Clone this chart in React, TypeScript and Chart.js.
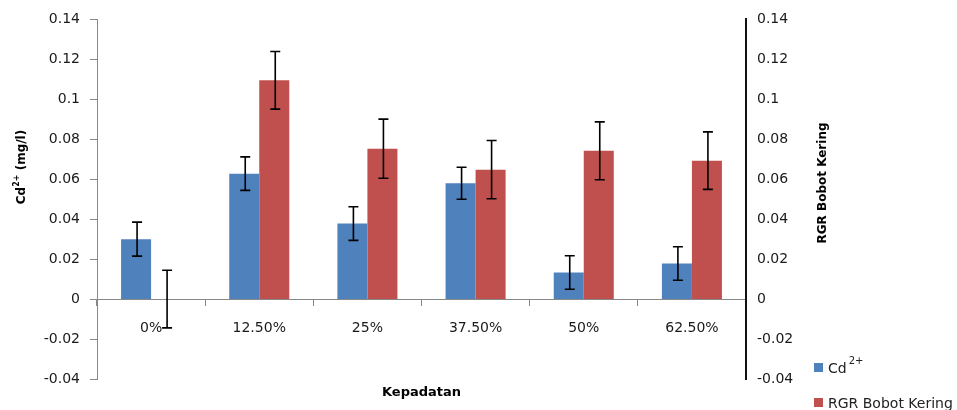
import React, { useEffect, useRef } from "react";
import { Chart, registerables } from "chart.js";

Chart.register(...registerables);

const categories = ["0%", "12.50%", "25%", "37.50%", "50%", "62.50%"];
const cdValues = [0.03, 0.0628, 0.0378, 0.058, 0.0133, 0.0178];
const cdErrors = [0.0085, 0.0084, 0.0084, 0.008, 0.0084, 0.0084];
const rgrValues = [0, 0.1095, 0.0753, 0.0648, 0.0742, 0.0693];
const rgrErrors = [0.0144, 0.0144, 0.0148, 0.0146, 0.0145, 0.0144];
const axisMin = -0.04;
const axisMax = 0.14;
const axisStep = 0.02;

const FONT = "'DejaVu Sans', sans-serif";
const BLUE = "#4F81BD";
const RED = "#C0504D";

const errorBarsPlugin = {
  id: "errorBars",
  afterDatasetsDraw(chart: any) {
    const ctx = chart.ctx;
    const errs = [cdErrors, rgrErrors];
    chart.data.datasets.forEach((ds: any, i: number) => {
      const meta = chart.getDatasetMeta(i);
      const ys = chart.scales[meta.yAxisID];
      meta.data.forEach((el: any, j: number) => {
        const v = ds.data[j];
        const e = errs[i][j];
        const x = el.x + 1;
        const yt = ys.getPixelForValue(v + e);
        const yb = ys.getPixelForValue(v - e);
        ctx.save();
        ctx.strokeStyle = "#000";
        ctx.lineWidth = 1.6;
        ctx.beginPath();
        ctx.moveTo(x, yt);
        ctx.lineTo(x, yb);
        ctx.moveTo(x - 5, yt);
        ctx.lineTo(x + 5, yt);
        ctx.moveTo(x - 5, yb);
        ctx.lineTo(x + 5, yb);
        ctx.stroke();
        ctx.restore();
      });
    });
  },
};

function drawParts(ctx: any, parts: { t: string; size: number; dy: number }[], x: number, y: number, center: boolean) {
  let total = 0;
  parts.forEach((p) => {
    ctx.font = `bold ${p.size}px ${FONT}`;
    total += ctx.measureText(p.t).width;
  });
  let cx = center ? x - total / 2 : x;
  parts.forEach((p) => {
    ctx.font = `bold ${p.size}px ${FONT}`;
    ctx.fillText(p.t, cx, y + p.dy);
    cx += ctx.measureText(p.t).width;
  });
}

const annotationsPlugin = {
  id: "annotations",
  afterDraw(chart: any) {
    const ctx = chart.ctx;
    const area = chart.chartArea;
    ctx.save();
    ctx.fillStyle = "#000";
    ctx.textBaseline = "alphabetic";
    ctx.textAlign = "left";
    // left title
    ctx.save();
    ctx.translate(25, 167);
    ctx.rotate(-Math.PI / 2);
    drawParts(
      ctx,
      [
        { t: "Cd", size: 12, dy: 0 },
        { t: "2+", size: 8, dy: -6 },
        { t: " (mg/l)", size: 12, dy: 0 },
      ],
      0,
      0,
      true
    );
    ctx.restore();
    // right title
    ctx.save();
    ctx.translate(826, 183);
    ctx.rotate(-Math.PI / 2);
    ctx.font = `bold 12px ${FONT}`;
    ctx.textAlign = "center";
    ctx.fillText("RGR Bobot Kering", 0, 0);
    ctx.restore();
    // x title
    ctx.font = `bold 13px ${FONT}`;
    ctx.textAlign = "center";
    ctx.textBaseline = "middle";
    ctx.fillText("Kepadatan", (area.left + area.right) / 2, 393);
    // legend
    ctx.textAlign = "left";
    ctx.textBaseline = "alphabetic";
    ctx.fillStyle = BLUE;
    ctx.fillRect(814, 363, 9, 9);
    ctx.fillStyle = RED;
    ctx.fillRect(814, 398, 9, 9);
    ctx.fillStyle = "#222";
    ctx.font = `14px ${FONT}`;
    ctx.fillText("Cd", 828, 373);
    const w = ctx.measureText("Cd").width;
    ctx.font = `10px ${FONT}`;
    ctx.fillText("2+", 828 + w + 2, 364);
    ctx.font = `14px ${FONT}`;
    ctx.fillText("RGR Bobot Kering", 828, 408);
    ctx.restore();
  },
};

function fmt(v: number) {
  const r = Math.round(v * 100) / 100;
  return String(r);
}

export default function App() {
  const ref = useRef<HTMLCanvasElement>(null);
  useEffect(() => {
    if (!ref.current) return;
    const chart = new Chart(ref.current, {
      type: "bar",
      data: {
        labels: categories,
        datasets: [
          {
            label: "Cd2+",
            data: cdValues,
            backgroundColor: BLUE,
            yAxisID: "y",
            categoryPercentage: 0.555,
            barPercentage: 1,
          },
          {
            label: "RGR Bobot Kering",
            data: rgrValues,
            backgroundColor: RED,
            yAxisID: "y2",
            categoryPercentage: 0.555,
            barPercentage: 1,
          },
        ],
      },
      options: {
        responsive: false,
        animation: false,
        layout: { padding: { top: 19, bottom: 31, left: 0, right: 0 } },
        plugins: { legend: { display: false }, tooltip: { enabled: false } },
        scales: {
          x: {
            type: "category",
            position: { y: 0 } as any,
            offset: true,
            grid: {
              offset: true,
              drawOnChartArea: false,
              drawTicks: true,
              tickLength: 6,
              color: "#888",
            },
            border: { color: "#888", width: 1 },
            ticks: {
              font: { family: FONT, size: 14 },
              color: "#1a1a1a",
              padding: 15,
              maxRotation: 0,
            },
          },
          y: {
            position: "left",
            min: axisMin,
            max: axisMax,
            afterFit: (s: any) => {
              s.width = 97;
            },
            ticks: {
              stepSize: axisStep,
              font: { family: FONT, size: 14 },
              color: "#1a1a1a",
              padding: 10,
              callback: (v: any) => fmt(Number(v)),
            },
            grid: {
              drawOnChartArea: false,
              drawTicks: true,
              tickLength: 7,
              color: "#888",
            },
            border: { color: "#888", width: 1 },
          },
          y2: {
            position: "right",
            min: axisMin,
            max: axisMax,
            afterFit: (s: any) => {
              s.width = 211;
            },
            ticks: {
              stepSize: axisStep,
              font: { family: FONT, size: 14 },
              color: "#1a1a1a",
              padding: 11,
              callback: (v: any) => fmt(Number(v)),
            },
            grid: { display: false, drawOnChartArea: false, drawTicks: false },
            border: { color: "#111", width: 2 },
          },
        },
      },
      plugins: [errorBarsPlugin, annotationsPlugin],
    });
    return () => chart.destroy();
  }, []);
  return (
    <div style={{ position: "absolute", left: 0, top: 0, width: 957, height: 410, background: "#fff" }}>
      <canvas ref={ref} width={957} height={410} style={{ display: "block" }} />
    </div>
  );
}
